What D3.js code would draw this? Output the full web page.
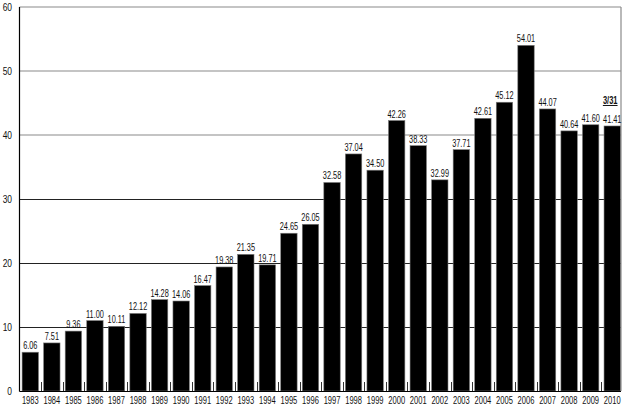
<!DOCTYPE html>
<html>
<head>
<meta charset="utf-8">
<script src="https://cdn.jsdelivr.net/npm/d3@7"></script>
<style>
  html, body { margin: 0; padding: 0; background: #fff; }
  svg { display: block; font-family: "Liberation Sans", Arial, sans-serif; }
</style>
</head>
<body>
<svg id="chart" width="624" height="411"></svg>
<script>
const years = ["1983","1984","1985","1986","1987","1988","1989","1990","1991","1992","1993","1994","1995","1996","1997","1998","1999","2000","2001","2002","2003","2004","2005","2006","2007","2008","2009","2010"];
const values = [6.06,7.51,9.36,11.00,10.11,12.12,14.28,14.06,16.47,19.38,21.35,19.71,24.65,26.05,32.58,37.04,34.50,42.26,38.33,32.99,37.71,42.61,45.12,54.01,44.07,40.64,41.60,41.41];
const yTicks = [0,10,20,30,40,50,60];
const noteLabel = "3/31";
const noteYear = "2010";

(function() {
const svg = d3.select("#chart");
const pLeft = 19.5, pRight = 623, pTop = 7, pBottom = 391, frameRight = 621;

const x = d3.scaleBand().domain(years).range([pLeft, pRight]).paddingInner(0.24).paddingOuter(0.12);
const y = d3.scaleLinear().domain([0, 60]).range([pBottom, pTop]);

// gridlines
svg.append("g").selectAll("line").data(yTicks.filter(d => d > 0)).join("line")
  .attr("x1", pLeft).attr("x2", frameRight)
  .attr("y1", d => d >= 40 ? y(d) : y(d) + 0.5)
  .attr("y2", d => d >= 40 ? y(d) : y(d) + 0.5)
  .attr("stroke", d => d >= 40 ? "#8a8a8a" : "#222")
  .attr("stroke-width", d => d >= 40 ? 1.2 : 1);

// right frame
svg.append("line").attr("x1", frameRight).attr("x2", frameRight)
  .attr("y1", y(60)).attr("y2", y(0)).attr("stroke", "#8a8a8a").attr("stroke-width", 1.2);

// bars
svg.append("g").selectAll("rect").data(years).join("rect")
  .attr("x", (d) => x(d))
  .attr("width", x.bandwidth())
  .attr("y", (d, i) => y(values[i]))
  .attr("height", (d, i) => y(0) - y(values[i]))
  .attr("fill", "#000")
  .attr("stroke", "#7a7a7a").attr("stroke-width", 0.6);

// inner tick marks at band boundaries
const step = x.step();
const bounds = years.slice(1).map(d => x(d) - (step - x.bandwidth()) / 2);
svg.append("g").selectAll("line").data(bounds).join("line")
  .attr("x1", d => Math.round(d) + 0.5).attr("x2", d => Math.round(d) + 0.5)
  .attr("y1", y(0)).attr("y2", y(0) - 9)
  .attr("stroke", "#333").attr("stroke-width", 1);

// axes lines
svg.append("line").attr("x1", pLeft).attr("x2", pLeft).attr("y1", y(60)).attr("y2", y(0) + 0.5)
  .attr("stroke", "#000").attr("stroke-width", 1.2);
svg.append("line").attr("x1", pLeft).attr("x2", frameRight).attr("y1", y(0) + 0.5).attr("y2", y(0) + 0.5)
  .attr("stroke", "#000").attr("stroke-width", 1.2);

const narrow = (sx) => (cx, cy) => `translate(${cx},${cy}) scale(${sx},1)`;

// y tick labels
svg.append("g").selectAll("text").data(yTicks).join("text")
  .attr("transform", d => narrow(0.8)(12, y(d) + 3.5))
  .attr("text-anchor", "end")
  .attr("font-size", 10.5).attr("fill", "#111")
  .text(d => d);

// x labels
svg.append("g").selectAll("text").data(years).join("text")
  .attr("transform", d => narrow(0.72)(x(d) + x.bandwidth() / 2, 403.5))
  .attr("text-anchor", "middle")
  .attr("font-size", 10.5).attr("fill", "#111")
  .text(d => d);

// value labels
svg.append("g").selectAll("text").data(years).join("text")
  .attr("transform", (d, i) => narrow(0.7)(x(d) + x.bandwidth() / 2, y(values[i]) - 3))
  .attr("text-anchor", "middle")
  .attr("font-size", 10.5).attr("fill", "#111")
  .text((d, i) => values[i].toFixed(2));

// note label
const ni = years.indexOf(noteYear);
const nx = x(noteYear) + x.bandwidth() / 2 - 2;
const ny = y(values[ni]) - 22;
const note = svg.append("text")
  .attr("transform", narrow(0.72)(nx, ny))
  .attr("text-anchor", "middle")
  .attr("font-size", 10.5).attr("font-weight", "bold").attr("fill", "#111")
  .text(noteLabel);
const nw = note.node().getComputedTextLength() * 0.72;
svg.append("line").attr("x1", nx - nw / 2).attr("x2", nx + nw / 2)
  .attr("y1", ny + 1.5).attr("y2", ny + 1.5).attr("stroke", "#111").attr("stroke-width", 1);
})();
</script>
</body>
</html>
